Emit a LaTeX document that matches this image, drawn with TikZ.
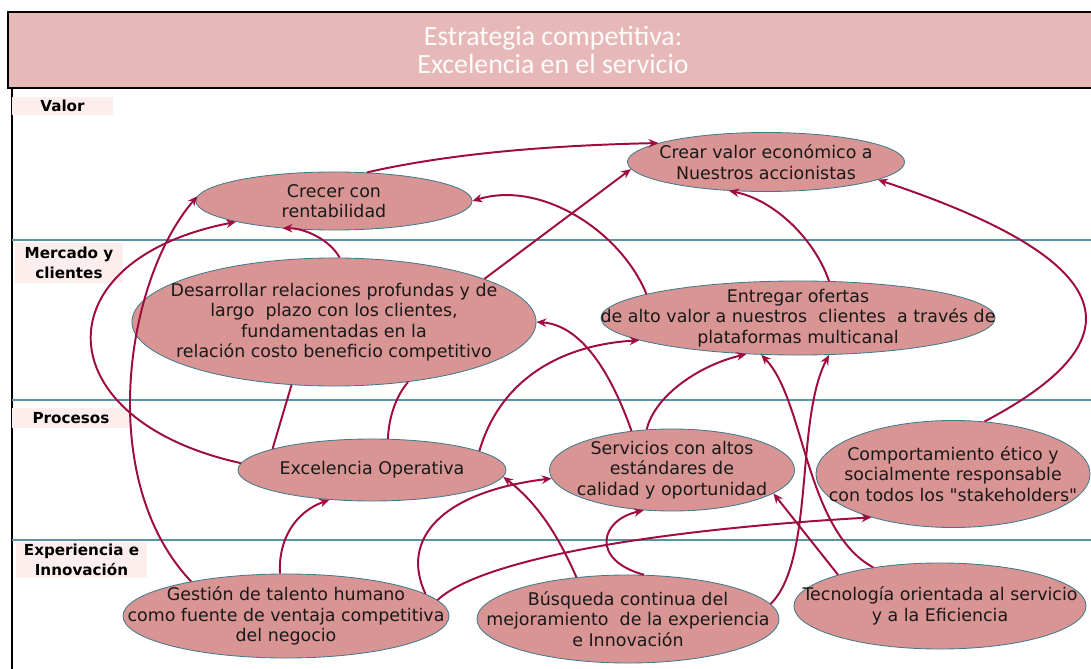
\documentclass[tikz,border=0pt]{standalone}
\usepackage{fontspec}
\setmainfont{DejaVu Sans}[Ligatures=TeXOff]
\newfontfamily\titlefont{Carlito}
\usetikzlibrary{shapes.geometric,arrows.meta}
\definecolor{titlepink}{HTML}{E6B9B8}
\definecolor{lblpink}{HTML}{FDEEEE}
\definecolor{objpink}{HTML}{D99594}
\definecolor{objedge}{HTML}{427A8C}
\definecolor{laneteal}{HTML}{5A93A3}
\definecolor{linkred}{HTML}{9E0C40}
\begin{document}
\begin{tikzpicture}[x=0.025cm,y=-0.025cm,
  obj/.style={ellipse,draw=objedge,fill=objpink,line width=0.6pt,inner sep=0pt},
  objtxt/.style={align=center,text=black!90,font=\fontsize{12.4}{14.6}\selectfont},
  lanelbl/.style={fill=lblpink,inner sep=0pt,align=center,font=\fontsize{10.8}{14}\selectfont\bfseries},
  lane/.style={color=laneteal,line width=0.9pt},
  link/.style={color=linkred,line width=1.4pt,-{Stealth[length=7pt,width=6pt]}},
  tie/.style={color=linkred,line width=1.4pt}]
\useasboundingbox (0,0) rectangle (1091,669);

\node[draw=black,line width=1.4pt,fill=titlepink,minimum width=27.25cm,minimum height=1.9cm,
  align=center,text=white!95!titlepink,font=\titlefont\fontsize{19.8}{20}\selectfont] (title) at (553,50)
  {Estrategia competitiva:\\ Excelencia en el servicio};
\draw[line width=1.2pt] (12,88) -- (12,669);
\draw[lane] (12,240) -- (1091,240);
\draw[lane] (12,400) -- (1091,400);
\draw[lane] (12,540) -- (1091,540);

\node[lanelbl,minimum width=2.525cm,minimum height=0.45cm] (valor) at (62.5,106) {Valor};
\node[lanelbl,minimum width=2.7cm,minimum height=1cm] (mercado) at (69,263) {Mercado y\\clientes};
\node[lanelbl,minimum width=2.95cm,minimum height=0.5cm] (procesos) at (71,418) {Procesos};
\node[lanelbl,minimum width=3.275cm,minimum height=0.9cm] (experiencia) at (81.5,560) {Experiencia e\\Innovación};

\node[obj,minimum width=6.9cm,minimum height=1.45cm,
  label={[objtxt,name=crecer-t]center:{Crecer con\\rentabilidad}}] (crecer) at (334,201) {};
\node[obj,minimum width=6.925cm,minimum height=1.475cm,
  label={[objtxt,name=crear-t]center:{Crear valor económico a\\Nuestros accionistas}}] (crear) at (766,162) {};
\node[obj,minimum width=10.1cm,minimum height=3.2cm,
  label={[objtxt,name=desarrollar-t]center:{Desarrollar relaciones profundas y de\\largo\ \ plazo con los clientes,\\fundamentadas en la\\relación costo beneficio competitivo}}] (desarrollar) at (334,322) {};
\node[obj,minimum width=9.85cm,minimum height=1.85cm,
  label={[objtxt,name=entregar-t]center:{Entregar ofertas\\de alto valor a nuestros\ \ clientes\ \ a través de\\plataformas multicanal}}] (entregar) at (798,318) {};
\node[obj,minimum width=6.7cm,minimum height=1.55cm,
  label={[objtxt,name=excelencia-t]center:{Excelencia Operativa}}] (excelencia) at (372,470) {};
\node[obj,minimum width=6.125cm,minimum height=2.05cm,
  label={[objtxt,name=servicios-t]center:{Servicios con altos\\estándares de\\calidad y oportunidad}}] (servicios) at (672,470) {};
\node[obj,minimum width=6.85cm,minimum height=2.675cm,
  label={[objtxt,name=comportamiento-t]center:{Comportamiento ético y\\socialmente responsable\\con todos los "stakeholders"}}] (comportamiento) at (953,474) {};
\node[obj,minimum width=8.15cm,minimum height=2.1cm,
  label={[objtxt,name=gestion-t]center:{Gestión de talento humano\\como fuente de ventaja competitiva\\del negocio}}] (gestion) at (286,616) {};
\node[obj,minimum width=7.55cm,minimum height=2.2cm,
  label={[objtxt,name=busqueda-t]center:{Búsqueda continua del\\mejoramiento\ \ de la experiencia\\e Innovación}}] (busqueda) at (628,619) {};
\node[obj,minimum width=7.3cm,minimum height=2.15cm,
  label={[objtxt,name=tecnologia-t]center:{Tecnología orientada al servicio\\y a la Eficiencia}}] (tecnologia) at (940,606) {};

\draw[link] (crecer.41) .. controls (430,158) and (520,146) .. (crear.170);
\draw[link] (desarrollar.85) .. controls (330,240) and (305,228) .. (crecer.208);
\draw[link] (desarrollar.16) -- (crear.183);
\draw[link] (entregar.171) .. controls (620,230) and (540,180) .. (crecer.east);
\draw[link] (entregar.50) .. controls (815,240) and (775,200) .. (crear.218);
\draw[link] (comportamiento.59) .. controls (1120,350) and (1150,270) .. (crear.-9);
\draw[link] (excelencia.177) .. controls (45,420) and (40,260) .. (crecer.192);
\draw[link] (gestion.160) .. controls (95,480) and (125,280) .. (crecer.178);
\draw[tie] (excelencia.168) -- (desarrollar.236);
\draw[tie] (excelencia.63) .. controls (389,415) and (397,395) .. (desarrollar.321);
\draw[link] (excelencia.10) .. controls (500,380) and (560,345) .. (entregar.188);
\draw[link] (servicios.136) .. controls (610,370) and (580,325) .. (desarrollar.east);
\draw[link] (servicios.122) .. controls (655,395) and (700,365) .. (entregar.215);
\draw[link] (gestion.98) .. controls (278,540) and (295,512) .. (excelencia.215);
\draw[link] (gestion.9) .. controls (400,540) and (440,492) .. (servicios.184);
\draw[link] (gestion.6) .. controls (480,560) and (650,530) .. (comportamiento.208);
\draw[link] (busqueda.141) .. controls (560,540) and (540,505) .. (excelencia.-3);
\draw[link] (busqueda.70) .. controls (590,560) and (600,520) .. (servicios.235);
\draw[link] (busqueda.6) .. controls (815,560) and (795,420) .. (entregar.310);
\draw[link] (tecnologia.163) -- (servicios.-13);
\draw[link] (tecnologia.150) .. controls (805,530) and (805,400) .. (entregar.225);

\end{tikzpicture}
\end{document}
